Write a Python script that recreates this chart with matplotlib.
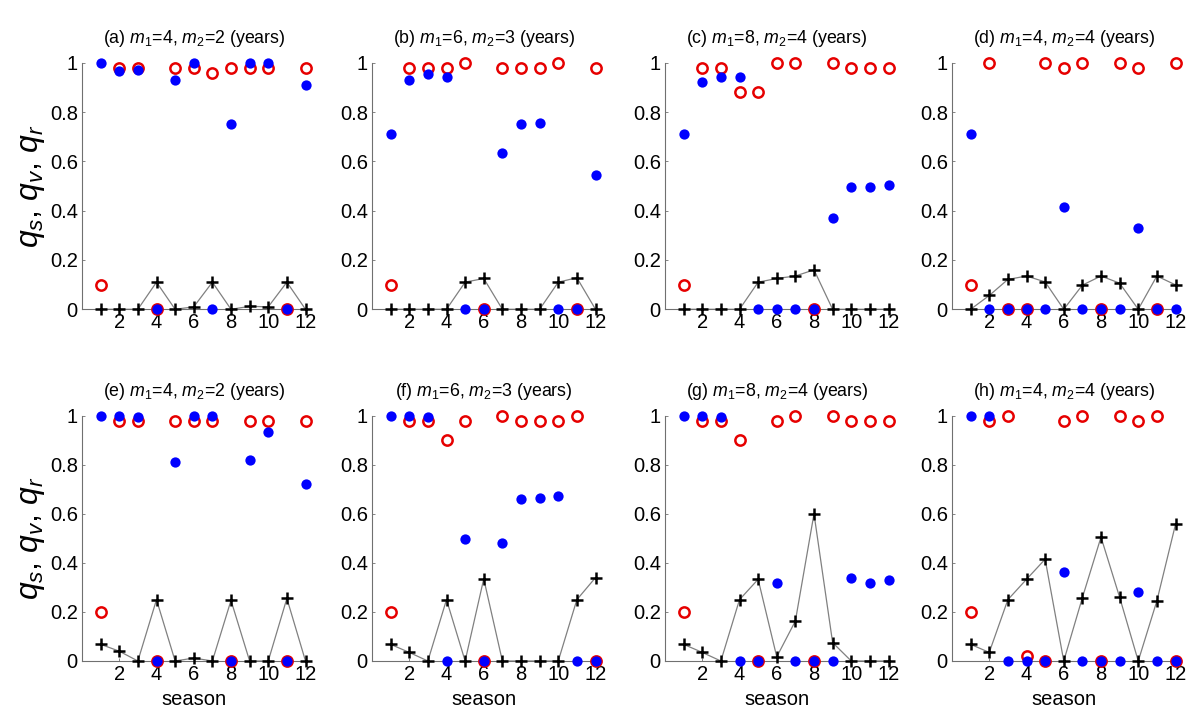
import matplotlib
matplotlib.use("Agg")
import matplotlib.pyplot as plt
import numpy as np

plt.rcParams['font.family'] = ['Liberation Sans', 'DejaVu Sans']
plt.rcParams['mathtext.fontset'] = 'custom'
plt.rcParams['mathtext.rm'] = 'Liberation Sans'
plt.rcParams['mathtext.it'] = 'Liberation Sans:italic'

season = list(range(1, 13))

titles = [
    r"(a) $m_1$=4, $m_2$=2 (years)",
    r"(b) $m_1$=6, $m_2$=3 (years)",
    r"(c) $m_1$=8, $m_2$=4 (years)",
    r"(d) $m_1$=4, $m_2$=4 (years)",
    r"(e) $m_1$=4, $m_2$=2 (years)",
    r"(f) $m_1$=6, $m_2$=3 (years)",
    r"(g) $m_1$=8, $m_2$=4 (years)",
    r"(h) $m_1$=4, $m_2$=4 (years)",
]

# filled blue dots
qs_a = [1.0, 0.965, 0.97, 0, 0.93, 1.0, 0, 0.75, 1.0, 1.0, 0, 0.91]
qs_b = [0.71, 0.93, 0.955, 0.94, 0, 0, 0.633, 0.753, 0.757, 0, 0, 0.545]
qs_c = [0.71, 0.92, 0.94, 0.94, 0, 0, 0, 0, 0.37, 0.495, 0.497, 0.503]
qs_d = [0.71, 0, 0, 0, 0, 0.413, 0, 0, 0, 0.328, 0, 0]
qs_e = [1.0, 1.0, 0.995, 0, 0.81, 1.0, 1.0, 0, 0.82, 0.935, 0, 0.72]
qs_f = [1.0, 1.0, 0.995, 0, 0.497, 0, 0.48, 0.66, 0.665, 0.672, 0, 0]
qs_g = [1.0, 1.0, 0.995, 0, 0, 0.32, 0, 0, 0, 0.34, 0.32, 0.33]
qs_h = [1.0, 1.0, 0, 0, 0, 0.363, 0, 0, 0, 0.28, 0, 0]

# open red circles
qv_a = [0.1, 0.98, 0.98, 0, 0.98, 0.98, 0.96, 0.98, 0.98, 0.98, 0, 0.98]
qv_b = [0.1, 0.98, 0.98, 0.98, 1.0, 0, 0.98, 0.98, 0.98, 1.0, 0, 0.98]
qv_c = [0.1, 0.98, 0.98, 0.88, 0.88, 1.0, 1.0, 0, 1.0, 0.98, 0.98, 0.98]
qv_d = [0.1, 1.0, 0, 0, 1.0, 0.98, 1.0, 0, 1.0, 0.98, 0, 1.0]
qv_e = [0.2, 0.98, 0.98, 0, 0.98, 0.98, 0.98, 0, 0.98, 0.98, 0, 0.98]
qv_f = [0.2, 0.98, 0.98, 0.9, 0.98, 0, 1.0, 0.98, 0.98, 0.98, 1.0, 0]
qv_g = [0.2, 0.98, 0.98, 0.9, 0, 0.98, 1.0, 0, 1.0, 0.98, 0.98, 0.98]
qv_h = [0.2, 0.98, 1.0, 0.02, 0, 0.98, 1.0, 0, 1.0, 0.98, 1.0, 0]

# black plus with gray line
qr_a = [0, 0, 0, 0.11, 0, 0.01, 0.11, 0, 0.012, 0.01, 0.11, 0]
qr_b = [0, 0, 0, 0, 0.11, 0.125, 0, 0, 0, 0.11, 0.128, 0]
qr_c = [0, 0, 0, 0, 0.11, 0.125, 0.135, 0.16, 0, 0, 0, 0]
qr_d = [0, 0.056, 0.121, 0.135, 0.111, 0, 0.098, 0.135, 0.106, 0, 0.135, 0.099]
qr_e = [0.068, 0.04, 0, 0.25, 0, 0.012, 0, 0.247, 0, 0, 0.255, 0]
qr_f = [0.068, 0.035, 0, 0.25, 0, 0.335, 0, 0, 0, 0, 0.25, 0.34]
qr_g = [0.068, 0.035, 0, 0.25, 0.333, 0.017, 0.163, 0.6, 0.075, 0, 0, 0]
qr_h = [0.068, 0.035, 0.25, 0.333, 0.415, 0, 0.258, 0.505, 0.26, 0, 0.245, 0.557]

QS = [qs_a, qs_b, qs_c, qs_d, qs_e, qs_f, qs_g, qs_h]
QV = [qv_a, qv_b, qv_c, qv_d, qv_e, qv_f, qv_g, qv_h]
QR = [qr_a, qr_b, qr_c, qr_d, qr_e, qr_f, qr_g, qr_h]

xticks = [2, 4, 6, 8, 10, 12]
yticks = [0, 0.2, 0.4, 0.6, 0.8, 1]
yticklabels = ['0', '0.2', '0.4', '0.6', '0.8', '1']

fig = plt.figure(figsize=(12, 7.16), dpi=100)
lefts = [82/1200, 372/1200, 665/1200, 952/1200]
width = 223.5/1200
bottoms = [(716-309.3)/716, (716-661)/716]
heights = [246.6/716, 245.3/716]

for i in range(8):
    r, c = divmod(i, 4)
    ax = fig.add_axes([lefts[c], bottoms[r], width, heights[r]])
    ax.plot(season, QR[i], color='#808080', lw=0.9, zorder=2, clip_on=False)
    ax.plot(season, QR[i], linestyle='none', marker='+', color='black',
            markersize=8, mew=1.8, zorder=3, clip_on=False)
    ax.plot(season, QV[i], linestyle='none', marker='o', mfc='none',
            mec=(0.9, 0.0, 0.0), markersize=7.4, mew=1.8, zorder=4, clip_on=False)
    ax.plot(season, QS[i], linestyle='none', marker='o', mfc=(0, 0, 1),
            mec=(0, 0, 1), markersize=7.4, mew=0, zorder=5, clip_on=False)
    ax.set_xlim(0, 12)
    ax.set_ylim(0, 1)
    ax.set_xticks(xticks)
    ax.set_yticks(yticks)
    ax.set_yticklabels(yticklabels)
    for s in ['top', 'right']:
        ax.spines[s].set_visible(False)
    for s in ['left', 'bottom']:
        ax.spines[s].set_color('#707070')
        ax.spines[s].set_linewidth(0.8)
    ax.tick_params(direction='in', length=2.5, width=0.6, color='#707070',
                   labelsize=14.5, pad=3)
    ax.set_title(titles[i], fontsize=12.8, pad=14)
    if c == 0:
        ax.set_ylabel(r"$q_s$, $q_v$, $q_r$", fontsize=23, labelpad=2)
    if r == 1:
        ax.set_xlabel("season", fontsize=14.5, labelpad=4)
    ax.patch.set_visible(False)

fig.savefig("out.png", dpi=100)
